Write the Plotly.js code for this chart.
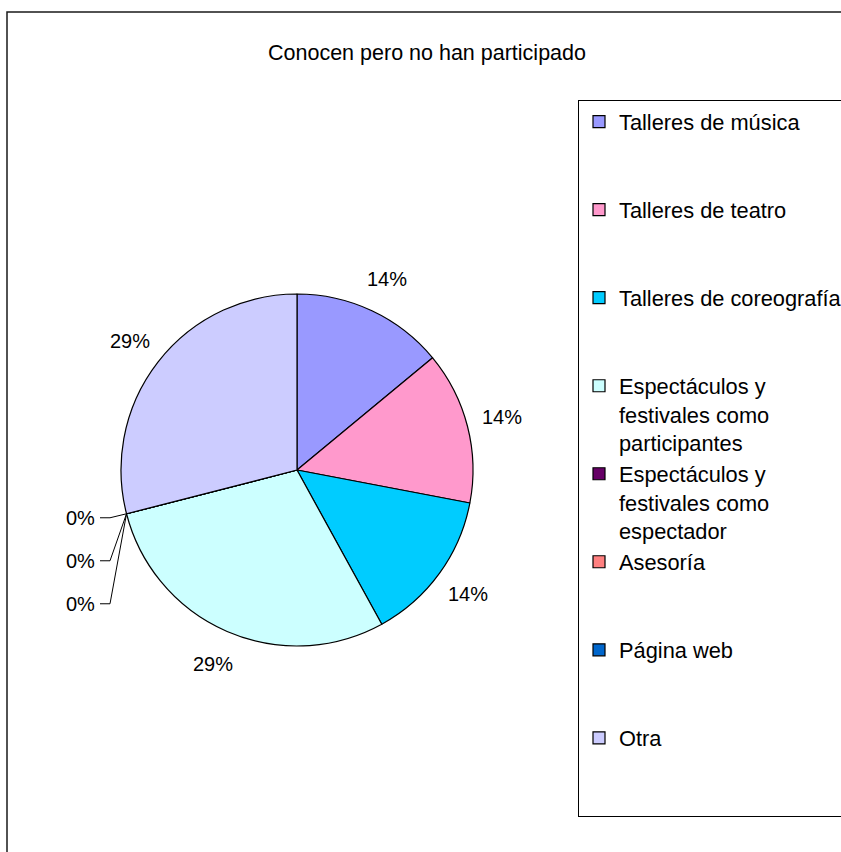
<!DOCTYPE html>
<html>
<head>
<meta charset="utf-8">
<script src="https://cdn.plot.ly/plotly-3.0.1.min.js"></script>
<style>
  html, body { margin: 0; padding: 0; background: #ffffff; overflow: hidden; }
  #chart { width: 870px; height: 870px; }
</style>
</head>
<body>
<div id="chart"></div>
<script>
// ---- data ----
const chartTitle = "Conocen pero no han participado";
const categories = [
  "Talleres de música",
  "Talleres de teatro",
  "Talleres de coreografía",
  "Espectáculos y festivales como participantes",
  "Espectáculos y festivales como espectador",
  "Asesoría",
  "Página web",
  "Otra"
];
const values = [14, 14, 14, 29, 0, 0, 0, 29];
const colors = ["#9999FF", "#FF99CC", "#00CCFF", "#CCFFFF", "#660066", "#FF8080", "#0066CC", "#CCCCFF"];

// ---- layout constants (the chart canvas is a little larger than the window, which crops it like the original) ----
const W = 870, H = 870;
const FONT = "Liberation Sans, Arial, sans-serif";
const pieLeft = 121, pieRight = 473, pieTop = 294, pieBottom = 646;
const cx = (pieLeft + pieRight) / 2, cy = (pieTop + pieBottom) / 2, R = (pieRight - pieLeft) / 2;

// wrap legend text the way the original legend box did, and pad every entry to 3 lines
function wrap(text, maxChars) {
  const words = text.split(" ");
  const lines = [];
  let cur = "";
  words.forEach(w => {
    const next = cur ? cur + " " + w : w;
    if (next.length > maxChars && cur) { lines.push(cur); cur = w; }
    else cur = next;
  });
  if (cur) lines.push(cur);
  while (lines.length < 3) lines.push("\u00a0");
  return lines.join("<br>");
}
const legendLabels = categories.map(c => wrap(c, 23));

const total = values.reduce((a, b) => a + b, 0);
const px2x = p => p / W;
const py2y = p => 1 - p / H;

// percentage labels placed around the pie from the data's own angles
const annotations = [];
const shapes = [];
let cum = 0;
let zeroIdx = 0;
values.forEach((v, i) => {
  const a0 = cum / total * 2 * Math.PI;
  cum += v;
  const a1 = cum / total * 2 * Math.PI;
  const mid = (a0 + a1) / 2;
  const pct = Math.round(v / total * 100) + "%";
  if (v > 0) {
    const lx = cx + R * 1.2 * Math.sin(mid);
    const ly = cy - R * 1.2 * Math.cos(mid);
    annotations.push({
      x: px2x(lx), y: py2y(ly), xref: "paper", yref: "paper",
      text: pct, showarrow: false, xanchor: "center", yanchor: "middle",
      font: { family: FONT, size: 20, color: "#000000" }
    });
  } else {
    // zero slices: stacked labels with leader lines back to the slice position
    const ptx = cx + R * Math.sin(mid);
    const pty = cy - R * Math.cos(mid);
    const ly = pty + 4 + zeroIdx * 43;
    const tx = 97;
    annotations.push({
      x: px2x(tx), y: py2y(ly), xref: "paper", yref: "paper",
      text: pct, showarrow: false, xanchor: "right", yanchor: "middle",
      font: { family: FONT, size: 20, color: "#000000" }
    });
    shapes.push({
      type: "path", xref: "paper", yref: "paper",
      path: "M" + px2x(tx + 3) + "," + py2y(ly) +
            " L" + px2x(tx + 13) + "," + py2y(ly) +
            " L" + px2x(ptx) + "," + py2y(pty),
      line: { color: "#000000", width: 1 }
    });
    zeroIdx++;
  }
});

// outer chart frame (only its top and left edges fall inside the window)
shapes.push({
  type: "rect", xref: "paper", yref: "paper",
  x0: px2x(7), y0: py2y(12), x1: 1, y1: 0,
  line: { color: "#1a1a1a", width: 1.5 }, fillcolor: "rgba(0,0,0,0)", layer: "below"
});

const trace = {
  type: "pie",
  labels: legendLabels,
  values: values,
  sort: false,
  direction: "clockwise",
  rotation: 0,
  textinfo: "none",
  hoverinfo: "skip",
  marker: { colors: colors, line: { color: "#000000", width: 1.2 } },
  domain: { x: [px2x(pieLeft), px2x(pieRight)], y: [py2y(pieBottom), py2y(pieTop)] }
};

const layout = {
  width: W, height: H,
  margin: { l: 0, r: 0, t: 0, b: 0, autoexpand: false },
  paper_bgcolor: "#ffffff",
  font: { family: FONT, color: "#000000" },
  title: {
    text: chartTitle,
    x: px2x(427), xref: "paper", xanchor: "center",
    y: 1 - 52 / H, yref: "container", yanchor: "middle",
    font: { family: FONT, size: 21.5, color: "#000000" }
  },
  showlegend: true,
  legend: {
    x: px2x(578), y: py2y(100), xanchor: "left", yanchor: "top",
    font: { family: FONT, size: 21.8, color: "#000000" },
    bordercolor: "#000000", borderwidth: 1, bgcolor: "#ffffff",
    valign: "top", traceorder: "normal"
  },
  annotations: annotations,
  shapes: shapes
};

Plotly.newPlot("chart", [trace], layout, { staticPlot: true, displayModeBar: false });
</script>
</body>
</html>
